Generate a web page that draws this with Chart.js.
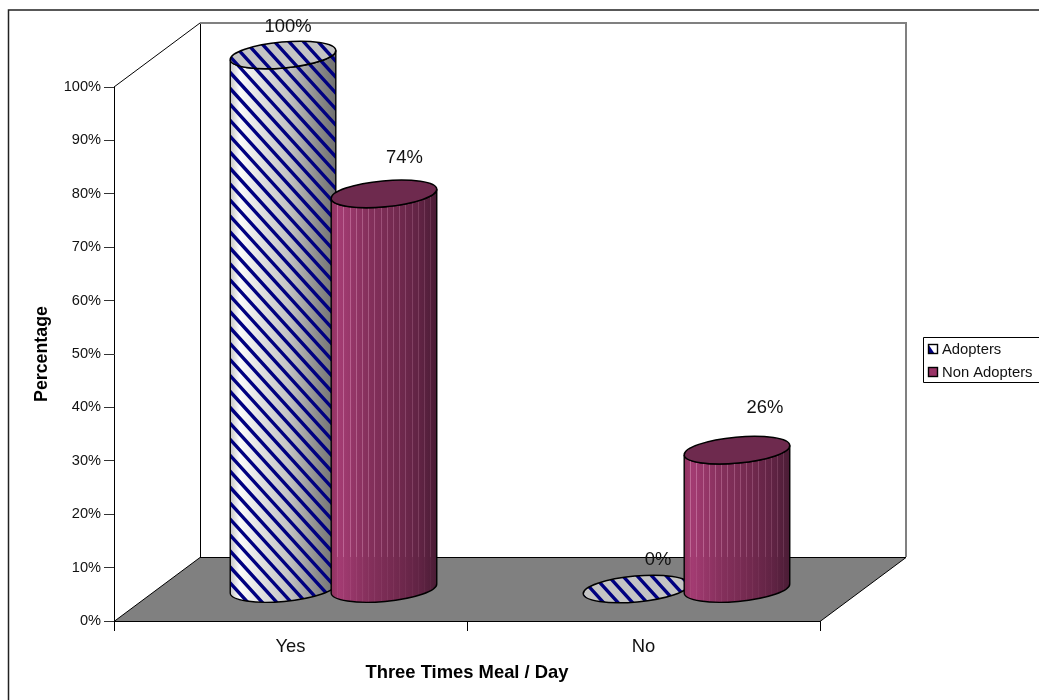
<!DOCTYPE html>
<html>
<head>
<meta charset="utf-8">
<style>html,body{margin:0;padding:0;background:#fff}canvas{display:block}</style>
<script src="https://cdn.jsdelivr.net/npm/chart.js@4/dist/chart.umd.min.js"></script>
</head>
<body>
<canvas id="c" width="1039" height="700"></canvas>
<script>
const categories = ['Yes', 'No'];
const adopters = [100, 0];
const nonAdopters = [74, 26];
const yTicks = [0, 10, 20, 30, 40, 50, 60, 70, 80, 90, 100];

const FONT = '"Liberation Sans", Arial, sans-serif';
// Oblique projection of the 3-D box: back wall offset and mid-depth offset of the cylinders.
const WALL_DX = 86, WALL_DY = 64;
const BAR_DX = 43, BAR_DY = 32;
const RY = 13, TILT = -5.2 * Math.PI / 180;
const LABEL_SHIFT = [
  [[5, -28.5], [22, -29.5]],
  [[20.5, -35.5], [28, -42.5]]
];

function hatch(ctx, left, right, top, bottom) {
  ctx.strokeStyle = '#000080';
  ctx.lineWidth = 3.4;
  ctx.beginPath();
  const period = 14.5, slope = 1.1;
  const run = (bottom - top) / slope;
  for (let k = Math.floor((left - run - 225) / period) * period + 225; k < right; k += period) {
    ctx.moveTo(k, top);
    ctx.lineTo(k + run, bottom);
  }
  ctx.stroke();
}

function cylinderPath(ctx, x, rx, topY, baseY) {
  const dx = rx * Math.cos(TILT), dy = rx * Math.sin(TILT);
  ctx.beginPath();
  ctx.moveTo(x - dx, topY - dy);
  ctx.lineTo(x - dx, baseY - dy);
  ctx.ellipse(x, baseY, rx, RY, TILT, Math.PI, 0, true);
  ctx.lineTo(x + dx, topY + dy);
  ctx.ellipse(x, topY, rx, RY, TILT, 0, Math.PI, false);
  ctx.closePath();
}

function drawCylinder(ctx, el, series) {
  const x = el.x + BAR_DX, rx = el.width / 2;
  const topY = el.y - BAR_DY, baseY = el.base - BAR_DY;
  const L = x - rx, R = x + rx;
  const g = ctx.createLinearGradient(L, 0, R, 0);
  const stops = series === 0
    ? [[0, '#c4c4c4'], [0.09, '#fbfbfb'], [0.3, '#e0e0e0'], [0.55, '#c4c4c4'], [0.85, '#888888'], [1, '#707070']]
    : [[0, '#8e325e'], [0.08, '#a33b72'], [0.35, '#85305c'], [0.6, '#742a50'], [0.85, '#5f2343'], [1, '#4a1c35']];
  stops.forEach(s => g.addColorStop(s[0], s[1]));

  if (baseY - topY > 0.5) {
    ctx.save();
    cylinderPath(ctx, x, rx, topY, baseY);
    ctx.fillStyle = g;
    ctx.fill();
    ctx.clip();
    if (series === 0) {
      hatch(ctx, L, R, topY - 20, baseY + 20);
    } else {
      // Thin light facets running down the shaft
      for (let i = 1; i < 17; i++) {
        const px = Math.round(L + i * 6.2) + 0.5;
        const fade = 1 - i / 26;
        ctx.strokeStyle = 'rgba(235,170,205,' + (0.42 * fade) + ')';
        ctx.lineWidth = 1;
        ctx.beginPath();
        ctx.moveTo(px, topY - 15);
        ctx.lineTo(px, Math.min(baseY + 15, 557));
        ctx.stroke();
        if (baseY + 15 > 557) {
          ctx.strokeStyle = 'rgba(235,170,205,' + (0.12 * fade) + ')';
          ctx.beginPath();
          ctx.moveTo(px, 557);
          ctx.lineTo(px, baseY + 15);
          ctx.stroke();
        }
      }
    }
    ctx.restore();
    cylinderPath(ctx, x, rx, topY, baseY);
    ctx.strokeStyle = '#000';
    ctx.lineWidth = 1.4;
    ctx.stroke();
  }

  // Top face
  ctx.save();
  ctx.beginPath();
  ctx.ellipse(x, topY, rx, RY, TILT, 0, Math.PI * 2);
  ctx.fillStyle = series === 0 ? '#c4c4c4' : '#6e2a4e';
  ctx.fill();
  if (series === 0) {
    ctx.clip();
    hatch(ctx, L, R, topY - 20, topY + 20);
  }
  ctx.restore();
  ctx.beginPath();
  ctx.ellipse(x, topY, rx, RY, TILT, 0, Math.PI * 2);
  ctx.strokeStyle = '#000';
  ctx.lineWidth = 1.5;
  ctx.stroke();
}

const stage = {
  id: 'stage',
  beforeDatasetsDraw(chart) {
    const ctx = chart.ctx, { left, right, top, bottom } = chart.chartArea;
    ctx.save();
    // Outer frame, open at the right and bottom edges
    ctx.strokeStyle = '#222';
    ctx.lineWidth = 1.5;
    ctx.beginPath();
    ctx.moveTo(8.5, 700);
    ctx.lineTo(8.5, 10);
    ctx.lineTo(1039, 10);
    ctx.stroke();
    // Back wall
    ctx.lineWidth = 1;
    ctx.strokeStyle = '#000';
    ctx.beginPath();
    ctx.moveTo(left, top);
    ctx.lineTo(left + WALL_DX, top - WALL_DY);
    ctx.moveTo(left + WALL_DX + 0.5, top - WALL_DY);
    ctx.lineTo(left + WALL_DX + 0.5, bottom - WALL_DY);
    ctx.stroke();
    ctx.strokeStyle = '#808080';
    ctx.lineWidth = 2;
    ctx.beginPath();
    ctx.moveTo(left + WALL_DX, top - WALL_DY);
    ctx.lineTo(right + WALL_DX, top - WALL_DY);
    ctx.lineTo(right + WALL_DX, bottom - WALL_DY);
    ctx.stroke();
    // Floor
    ctx.beginPath();
    ctx.moveTo(left, bottom + 0.5);
    ctx.lineTo(left + WALL_DX, bottom - WALL_DY + 0.5);
    ctx.lineTo(right + WALL_DX, bottom - WALL_DY + 0.5);
    ctx.lineTo(right, bottom + 0.5);
    ctx.closePath();
    ctx.fillStyle = '#808080';
    ctx.fill();
    ctx.strokeStyle = '#000';
    ctx.lineWidth = 1;
    ctx.stroke();
    ctx.restore();
  },
  afterDatasetsDraw(chart) {
    const ctx = chart.ctx;
    ctx.save();
    const order = [];
    chart.data.datasets.forEach((ds, s) => {
      chart.getDatasetMeta(s).data.forEach((el, i) => order.push({ el, s, i }));
    });
    order.forEach(o => drawCylinder(ctx, o.el, o.s));
    // Value labels
    ctx.fillStyle = '#111';
    ctx.font = '18.4px ' + FONT;
    ctx.textAlign = 'center';
    ctx.textBaseline = 'middle';
    order.forEach(o => {
      const shift = LABEL_SHIFT[o.s][o.i];
      ctx.fillText(chart.data.datasets[o.s].data[o.i] + '%',
        o.el.x + BAR_DX + shift[0], o.el.y - BAR_DY + shift[1]);
    });
    // Legend box
    const bx = 923.5, by = 337.5;
    ctx.fillStyle = '#fff';
    ctx.fillRect(bx, by, 116, 45);
    ctx.strokeStyle = '#000';
    ctx.lineWidth = 1;
    ctx.beginPath();
    ctx.moveTo(1039, by);
    ctx.lineTo(bx, by);
    ctx.lineTo(bx, by + 45);
    ctx.lineTo(1039, by + 45);
    ctx.stroke();
    ctx.textAlign = 'left';
    ctx.font = '14.8px ' + FONT;
    chart.data.datasets.forEach((ds, s) => {
      const sy = 344.5 + s * 23;
      ctx.fillStyle = s === 0 ? '#fff' : '#993366';
      ctx.fillRect(928.5, sy, 9, 9);
      if (s === 0) {
        ctx.fillStyle = '#000080';
        ctx.beginPath();
        ctx.moveTo(928.5, sy);
        ctx.lineTo(934.5, sy + 9);
        ctx.lineTo(928.5, sy + 9);
        ctx.closePath();
        ctx.fill();
      }
      ctx.strokeStyle = '#000';
      ctx.lineWidth = 1.4;
      ctx.strokeRect(928.5, sy, 9, 9);
      ctx.fillStyle = '#111';
      ctx.fillText(ds.label, 942, sy + 5);
    });
    ctx.restore();
  }
};

new Chart(document.getElementById('c'), {
  type: 'bar',
  data: {
    labels: categories,
    datasets: [
      { label: 'Adopters', data: adopters, backgroundColor: 'transparent', borderWidth: 0 },
      { label: 'Non Adopters', data: nonAdopters, backgroundColor: 'transparent', borderWidth: 0 }
    ]
  },
  options: {
    responsive: false,
    animation: false,
    events: [],
    categoryPercentage: 0.572,
    barPercentage: 1.05,
    layout: { padding: { top: 87, right: 219, bottom: 0, left: 0 } },
    plugins: { legend: { display: false }, tooltip: { enabled: false } },
    scales: {
      x: {
        afterFit(s) { s.height = 79; },
        grid: { offset: true, drawOnChartArea: false, color: '#000', tickLength: 10, tickColor: '#000' },
        border: { color: '#000' },
        ticks: { color: '#111', font: { family: FONT, size: 18.4 }, padding: 5, maxRotation: 0 },
        title: {
          display: true, text: 'Three Times Meal / Day', color: '#000',
          font: { family: FONT, size: 18.4, weight: 'bold' }, padding: { top: 0, bottom: 16 }
        }
      },
      y: {
        min: 0,
        max: 100,
        afterFit(s) { s.width = 114; },
        afterBuildTicks(s) { s.ticks = yTicks.map(value => ({ value })); },
        grid: { drawOnChartArea: false, color: '#000', tickLength: 10, tickColor: '#333' },
        border: { color: '#000' },
        ticks: { color: '#111', font: { family: FONT, size: 14.6 }, padding: 3, callback: v => v + '%' },
        title: {
          display: true, text: 'Percentage', color: '#000',
          font: { family: FONT, size: 17.8, weight: 'bold' }, padding: { top: 31, bottom: 0 }
        }
      }
    }
  },
  plugins: [stage]
});
</script>
</body>
</html>
